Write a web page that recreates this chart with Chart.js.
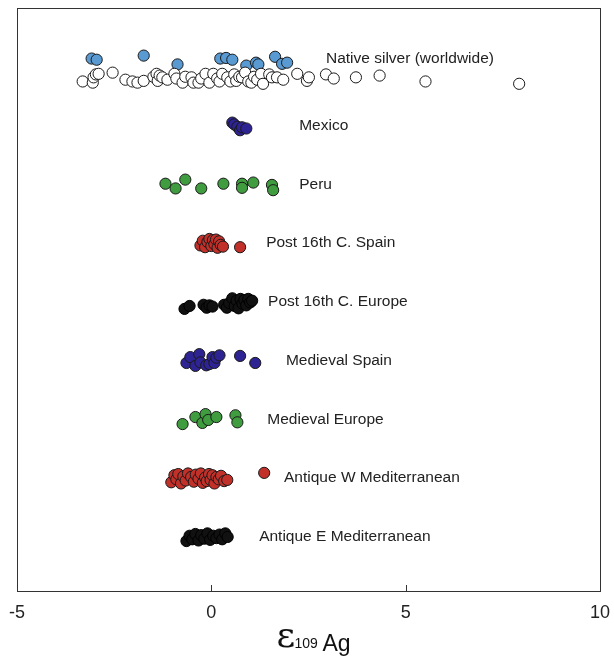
<!DOCTYPE html>
<html>
<head>
<meta charset="utf-8">
<script src="https://cdn.jsdelivr.net/npm/chart.js@4/dist/chart.umd.min.js"></script>
<style>
  html, body { margin: 0; padding: 0; background: #fff; }
  #wrap { width: 614px; height: 657px; position: relative; }
</style>
</head>
<body>
<div id="wrap"><canvas id="chart"></canvas></div>
<script>
// Serije: x = epsilon 109Ag, y = vrstica (z malo razpršitve)
const nativeWhiteX = [-3.31,-3.05,-3.03,-2.97,-2.90,-2.54,-2.21,-2.03,-1.90,-1.74,-1.49,-1.41,-1.38,-1.33,-1.26,-1.13,-0.95,-0.90,-0.74,-0.67,-0.51,-0.46,-0.33,-0.26,-0.15,-0.05,0.05,0.15,0.21,0.28,0.41,0.49,0.59,0.64,0.72,0.79,0.87,0.95,1.03,1.10,1.18,1.28,1.33,1.49,1.56,1.69,1.85,2.21,2.46,2.51,2.95,3.15,3.72,4.33,5.51,7.92];
const nativeWhiteY = [8.75,8.73,8.82,8.87,8.88,8.90,8.78,8.75,8.73,8.76,8.83,8.88,8.76,8.85,8.82,8.78,8.88,8.80,8.73,8.83,8.82,8.73,8.73,8.80,8.88,8.73,8.88,8.80,8.75,8.88,8.82,8.75,8.87,8.76,8.83,8.82,8.90,8.75,8.73,8.83,8.78,8.88,8.71,8.87,8.82,8.82,8.78,8.88,8.76,8.82,8.87,8.80,8.82,8.85,8.75,8.71];
const nativeBlueX = [-3.08,-2.95,-1.74,-0.87,0.23,0.38,0.54,0.90,1.15,1.21,1.64,1.82,1.95];
const nativeBlueY = [9.14,9.12,9.19,9.04,9.14,9.15,9.12,9.02,9.07,9.04,9.17,9.05,9.07];
const mexicoX = [0.54,0.59,0.67,0.74,0.79,0.90];
const mexicoY = [8.05,8.02,7.98,7.92,7.97,7.95];
const peruX = [-1.18,-0.92,-0.67,-0.26,0.31,0.79,0.79,1.08,1.56,1.59];
const peruY = [7.01,6.93,7.08,6.93,7.01,7.01,6.94,7.03,6.99,6.90];
const postSpainX = [-0.28,-0.22,-0.16,-0.10,-0.05,0.00,0.04,0.08,0.12,0.16,0.20,0.24,0.30,0.74];
const postSpainY = [5.96,6.04,5.93,6.02,6.07,5.95,6.05,5.98,6.06,5.92,6.03,5.97,5.94,5.93];
const postEuropeX = [-0.69,-0.56,-0.20,-0.12,-0.05,0.03,0.33,0.40,0.46,0.54,0.60,0.65,0.70,0.75,0.80,0.85,0.90,0.95,1.00,1.05];
const postEuropeY = [4.88,4.93,4.95,4.90,4.94,4.92,4.95,4.90,4.98,5.06,4.93,5.02,4.89,5.05,4.97,5.03,4.94,5.05,4.99,5.02];
const medSpainX = [-0.64,-0.54,-0.41,-0.31,-0.28,-0.13,-0.05,0.03,0.08,0.13,0.21,0.74,1.13];
const medSpainY = [3.96,4.06,3.91,4.11,3.97,3.92,3.94,4.06,3.96,4.05,4.09,4.08,3.96];
const medEuropeX = [-0.74,-0.41,-0.23,-0.15,-0.08,0.13,0.62,0.67];
const medEuropeY = [2.92,3.04,2.94,3.09,2.99,3.04,3.07,2.95];
const antWestX = [-1.03,-0.95,-0.90,-0.85,-0.78,-0.72,-0.66,-0.60,-0.52,-0.45,-0.40,-0.33,-0.27,-0.22,-0.16,-0.12,-0.06,-0.02,0.03,0.08,0.13,0.19,0.25,0.33,0.41,1.36];
const antWestY = [1.93,2.05,1.98,2.07,1.91,2.03,1.96,2.08,2.02,1.94,2.06,1.99,2.08,1.92,2.01,1.95,2.07,1.97,2.05,1.91,2.02,1.98,2.04,1.95,1.97,2.09];
const antEastX = [-0.64,-0.56,-0.49,-0.41,-0.33,-0.26,-0.18,-0.10,-0.03,0.05,0.13,0.21,0.28,0.36,0.42];
const antEastY = [0.93,1.02,0.96,1.05,0.94,1.03,0.97,1.06,0.95,1.02,0.98,1.04,0.96,1.06,1.00];

// Oznake skupin (levi rob besedila v enotah osi x)
const groupNames = ['Native silver (worldwide)','Mexico','Peru','Post 16th C. Spain','Post 16th C. Europe','Medieval Spain','Medieval Europe','Antique W Mediterranean','Antique E Mediterranean'];
const groupLabelX = [2.95,2.26,2.26,1.41,1.46,1.92,1.44,1.87,1.23];
const groupLabelY = [9.14,8,7,6,5,4,3,2,1];

const xTicks = [-5,0,5,10];

function pts(xs, ys) {
    return xs.map((x, i) => ({ x: x, y: ys[i] }));
}

function series(xs, ys, fill, edge) {
    return {
        data: pts(xs, ys),
        backgroundColor: fill,
        borderColor: edge || '#1a1a1a',
        borderWidth: 1,
        pointRadius: 5.6,
        pointHoverRadius: 5.6
    };
}

// Okvir, notranje oznake osi, napisi skupin in naslov osi
const decorPlugin = {
    id: 'decor',
    afterDraw(chart) {
        const ctx = chart.ctx;
        const a = chart.chartArea;
        const xs = chart.scales.x;
        const ys = chart.scales.y;
        ctx.save();
        ctx.strokeStyle = '#333';
        ctx.lineWidth = 1;
        ctx.strokeRect(a.left + 0.5, a.top + 0.5, a.right - a.left, a.bottom - a.top);
        // kljukice navznoter
        xTicks.forEach(t => {
            if (t === -5 || t === 10) return;
            const px = Math.round(xs.getPixelForValue(t)) + 0.5;
            ctx.beginPath();
            ctx.moveTo(px, a.bottom);
            ctx.lineTo(px, a.bottom - 6);
            ctx.stroke();
        });
        // napisi skupin
        ctx.fillStyle = '#222';
        ctx.font = '15.5px "Liberation Sans", Arial, sans-serif';
        ctx.textBaseline = 'middle';
        ctx.textAlign = 'left';
        groupNames.forEach((name, i) => {
            ctx.fillText(name, xs.getPixelForValue(groupLabelX[i]), ys.getPixelForValue(groupLabelY[i]));
        });
        // naslov osi x: epsilon 109Ag
        const cx = xs.getPixelForValue(2.6);
        ctx.textBaseline = 'alphabetic';
        ctx.fillStyle = '#111';
        ctx.font = '36px "DejaVu Serif", serif';
        ctx.fillText('\u03B5', cx - 36, 647);
        ctx.font = '14px "Liberation Sans", Arial, sans-serif';
        ctx.fillText('109', cx - 18, 648);
        ctx.font = '23px "Liberation Sans", Arial, sans-serif';
        ctx.fillText('Ag', cx + 10, 651);
        ctx.restore();
    }
};

new Chart(document.getElementById('chart'), {
    type: 'scatter',
    data: {
        datasets: [
            series(nativeWhiteX, nativeWhiteY, '#ffffff'),
            series(nativeBlueX, nativeBlueY, '#5a9ad3'),
            series(mexicoX, mexicoY, '#2e2392'),
            series(peruX, peruY, '#3f9c3f'),
            series(postSpainX, postSpainY, '#c2302a'),
            series(postEuropeX, postEuropeY, '#111111', '#000000'),
            series(medSpainX, medSpainY, '#2e2392'),
            series(medEuropeX, medEuropeY, '#3f9c3f'),
            series(antWestX, antWestY, '#c2302a'),
            series(antEastX, antEastY, '#111111', '#000000')
        ]
    },
    options: {
        responsive: true,
        maintainAspectRatio: false,
        animation: false,
        layout: { padding: { left: 17, right: 14, top: 8, bottom: 0 } },
        plugins: {
            legend: { display: false },
            tooltip: { enabled: false }
        },
        scales: {
            x: {
                type: 'linear',
                min: -5,
                max: 10,
                afterBuildTicks: scale => { scale.ticks = xTicks.map(v => ({ value: v })); },
                afterFit: scale => {
                    scale.height = 66;
                    scale.paddingLeft = 0;
                    scale.paddingRight = 0;
                },
                grid: { display: false, drawTicks: false },
                border: { display: false },
                ticks: {
                    padding: 11,
                    color: '#222',
                    font: { family: '"Liberation Sans", Arial, sans-serif', size: 18 }
                }
            },
            y: {
                type: 'linear',
                min: 0.08,
                max: 10,
                display: false
            }
        }
    },
    plugins: [decorPlugin]
});
</script>
</body>
</html>
